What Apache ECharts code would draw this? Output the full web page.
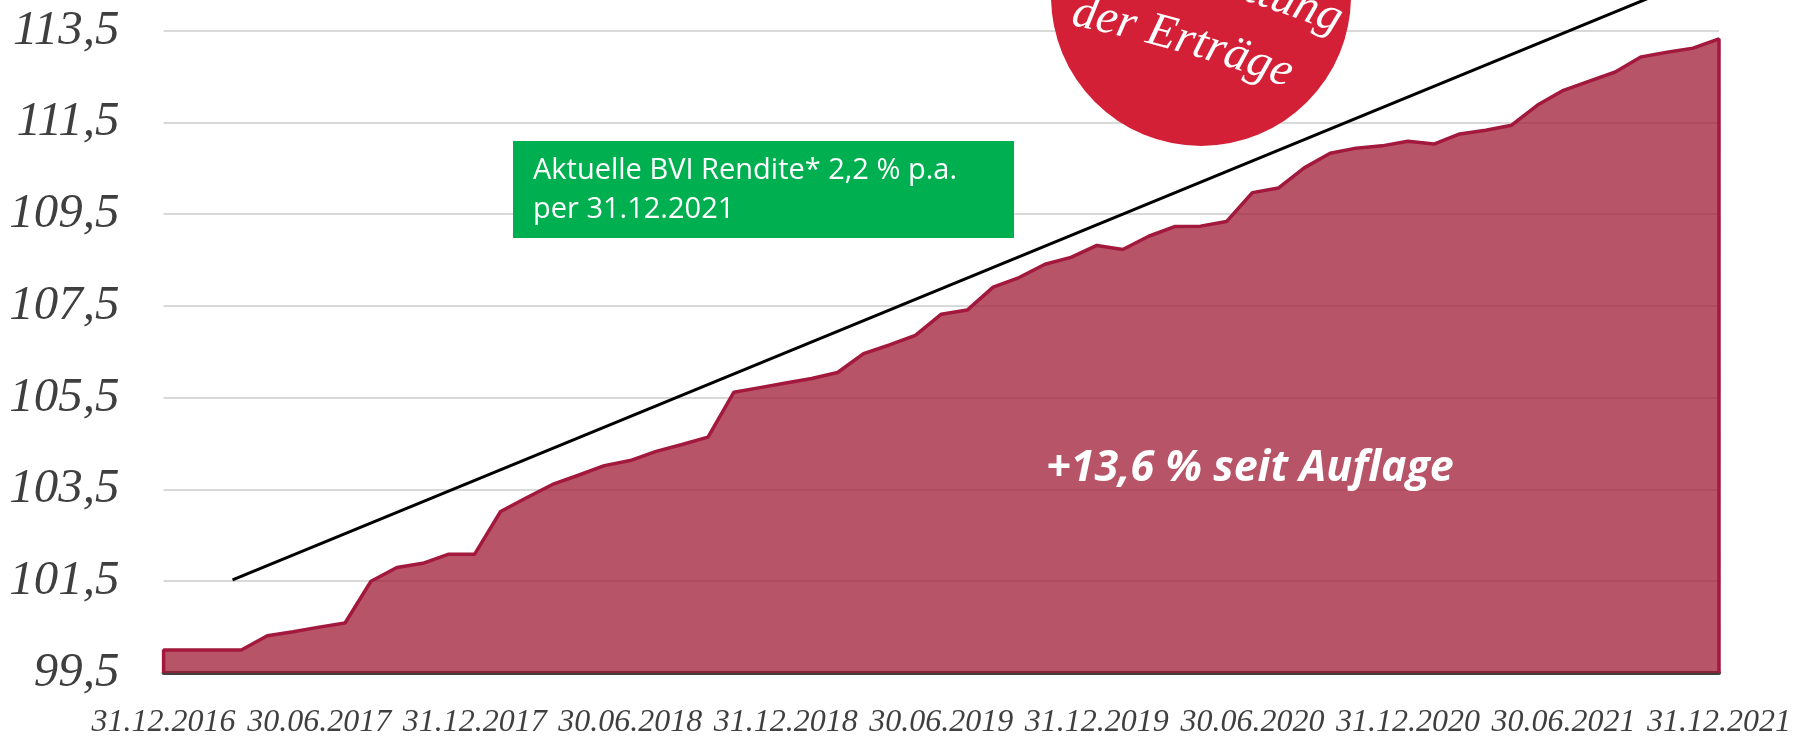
<!DOCTYPE html>
<html lang="de">
<head>
<meta charset="UTF-8">
<title>Wertentwicklung seit Auflage</title>
<style>
  html, body { margin: 0; padding: 0; background: #fff; }
  #chart { width: 1794px; height: 739px; }
</style>
</head>
<body>
<div id="chart"></div>
<script src="https://cdn.jsdelivr.net/npm/echarts@6/dist/echarts.min.js"></script>
<script>
// Monatswerte 31.12.2016 .. 31.12.2021 (Index, Start = 100)
var fundValues = [
  100.0, 100.0, 100.0, 100.0, 100.31, 100.40, 100.50, 100.59, 101.50, 101.80,
  101.89, 102.09, 102.09, 103.02, 103.32, 103.61, 103.81, 104.02, 104.13, 104.33,
  104.48, 104.64, 105.62, 105.72, 105.82, 105.92, 106.05, 106.46, 106.65, 106.86,
  107.32, 107.41, 107.91, 108.12, 108.41, 108.56, 108.82, 108.73, 109.02, 109.23,
  109.24, 109.34, 109.97, 110.07, 110.51, 110.83, 110.94, 110.99, 111.09, 111.03,
  111.25, 111.33, 111.44, 111.88, 112.20, 112.40, 112.60, 112.93, 113.03, 113.12,
  113.32
];
// Trendlinie (Monatsindex, Wert)
var trendLine = [[2.66, 101.53], [60, 114.84]];
var dateLabels = ['31.12.2016', '30.06.2017', '31.12.2017', '30.06.2018', '31.12.2018',
  '30.06.2019', '31.12.2019', '30.06.2020', '31.12.2020', '30.06.2021', '31.12.2021'];
var yMin = 99.5, yMax = 113.5, yStep = 2;
var boxLines = ['Aktuelle BVI Rendite* 2,2 % p.a.', 'per 31.12.2021'];
var perfText = '+13,6 % seit Auflage';
var badgeLines = ['Ausschüttung', 'der Erträge'];

var chart = echarts.init(document.getElementById('chart'));

// Flaeche mit senkrechten Raendern links und rechts
var areaData = [[0, yMin]];
fundValues.forEach(function (v, i) { areaData.push([i, v]); });
areaData.push([fundValues.length - 1, yMin]);

// Text im roten Kreis entlang eines Bogens
var measure = document.createElement('canvas').getContext('2d');
var badgeFont = { size: 48, family: '"Liberation Serif", serif', style: 'italic' };
function arcText(str, cx, cy, radius, midDeg) {
  measure.font = badgeFont.style + ' ' + badgeFont.size + 'px ' + badgeFont.family;
  var total = measure.measureText(str).width;
  var a = midDeg * Math.PI / 180 - total / 2 / radius;
  var rMid = radius + badgeFont.size * 0.3;
  var out = [];
  for (var k = 0; k < str.length; k++) {
    var w = measure.measureText(str[k]).width;
    var ang = a + w / 2 / radius;
    out.push({
      type: 'text',
      x: cx + rMid * Math.sin(ang),
      y: cy - rMid * Math.cos(ang),
      rotation: -ang,
      z: 20,
      style: {
        text: str[k], fill: '#ffffff',
        fontSize: badgeFont.size, fontFamily: badgeFont.family, fontStyle: badgeFont.style,
        align: 'center', verticalAlign: 'middle'
      }
    });
    a += w / radius;
  }
  return out;
}

var graphics = [
  { type: 'circle', z: 10, shape: { cx: 1201, cy: -4, r: 150 }, style: { fill: '#D42037' } },
  { type: 'rect', z: 10, shape: { x: 513, y: 141, width: 501, height: 97 }, style: { fill: '#00B050' } },
  { type: 'text', z: 11, x: 533, y: 171, style: { text: boxLines[0], fill: '#fff', fontSize: 29, fontFamily: '"Open Sans"', verticalAlign: 'middle' } },
  { type: 'text', z: 11, x: 533, y: 210, style: { text: boxLines[1], fill: '#fff', fontSize: 29, fontFamily: '"Open Sans"', verticalAlign: 'middle' } },
  { type: 'text', z: 11, x: 1250, y: 469, style: { text: perfText, fill: '#fff', fontSize: 43, fontWeight: 'bold', fontStyle: 'italic', fontFamily: '"Open Sans"', align: 'center', verticalAlign: 'middle' } }
];
graphics = graphics.concat(arcText(badgeLines[0], 785, 1428, 1498, 16.6));
graphics = graphics.concat(arcText(badgeLines[1], 785, 1428, 1430, 16));

var option = {
  animation: false,
  backgroundColor: '#ffffff',
  grid: { left: 163.6, right: 72.6, top: 30.7, bottom: 60 },
  xAxis: {
    type: 'value',
    min: 0, max: 60, interval: 6,
    axisLine: { show: true, onZero: false, lineStyle: { color: '#404040', width: 4 } },
    axisTick: { show: false },
    splitLine: { show: false },
    axisLabel: {
      margin: 34,
      color: '#3f3f3f',
      fontFamily: '"Liberation Serif", serif',
      fontStyle: 'italic',
      fontSize: 32,
      formatter: function (v) { return dateLabels[Math.round(v / 6)] || ''; }
    }
  },
  yAxis: {
    type: 'value',
    min: yMin, max: yMax, interval: yStep,
    axisLine: { show: false },
    axisTick: { show: false },
    splitLine: { lineStyle: { color: '#D9D9D9', width: 2 } },
    axisLabel: {
      margin: 44,
      color: '#3f3f3f',
      fontFamily: '"Liberation Serif", serif',
      fontStyle: 'italic',
      fontSize: 49,
      formatter: function (v) { return v.toFixed(1).replace('.', ','); }
    }
  },
  series: [
    {
      name: 'Fonds',
      type: 'line',
      data: areaData,
      symbol: 'none',
      lineStyle: { color: '#A2193D', width: 3.5 },
      areaStyle: { color: 'rgba(160,27,54,0.75)', opacity: 1, origin: 'start' },
      z: 2
    },
    {
      name: 'Trend',
      type: 'line',
      data: trendLine,
      symbol: 'none',
      clip: false,
      lineStyle: { color: '#000000', width: 3 },
      z: 3
    }
  ],
  graphic: graphics
};
chart.setOption(option);
</script>
</body>
</html>
